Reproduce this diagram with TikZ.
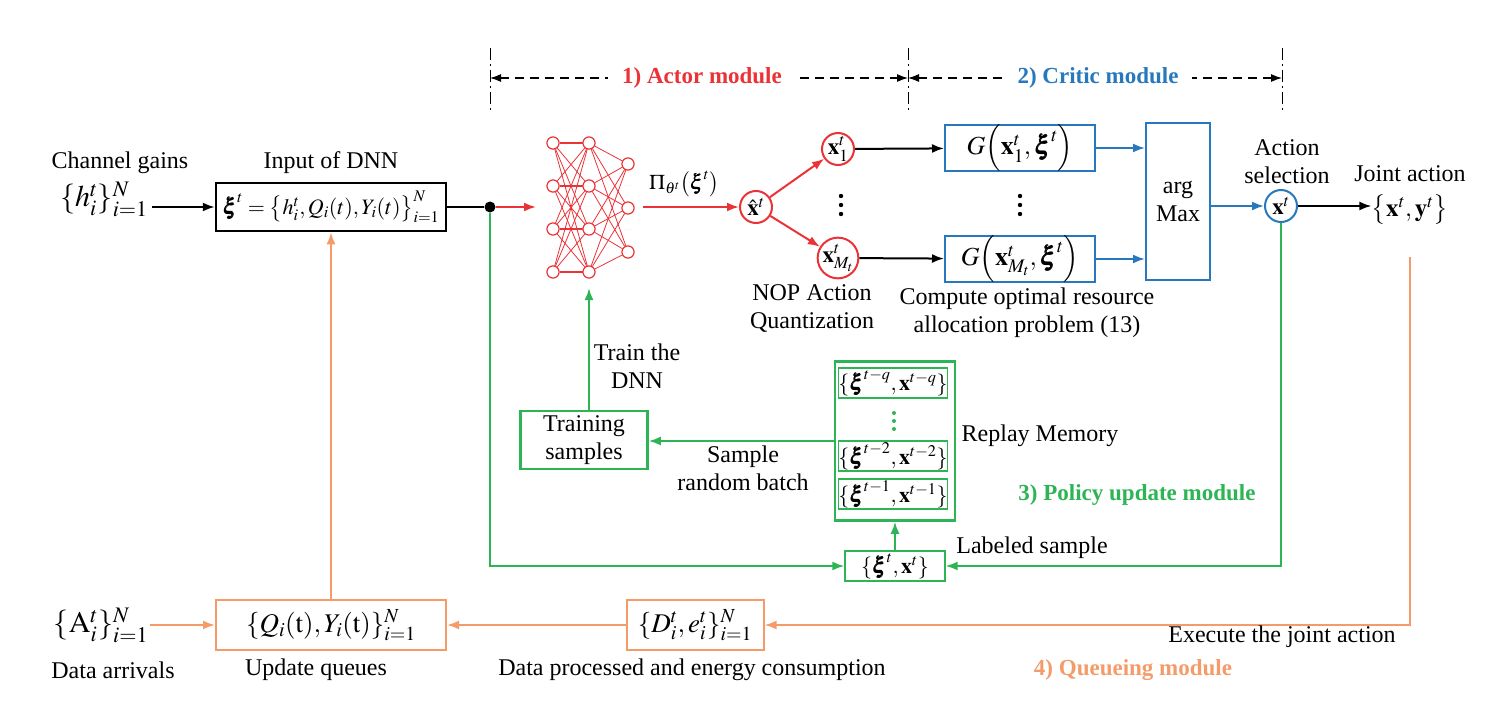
\documentclass[tikz,border=0pt]{standalone}
\usepackage{amsmath}
\usepackage{mathptmx}
\usepackage{bm}
\usepackage{fontspec}
\setmainfont{Liberation Serif}
\usetikzlibrary{arrows.meta}
\definecolor{cred}{RGB}{235,50,55}
\definecolor{cblue}{RGB}{40,120,190}
\definecolor{cgreen}{RGB}{45,180,85}
\definecolor{corange}{RGB}{245,155,105}
\newcommand{\vdd}{\tikz[baseline=0pt]{\fill (0,0) circle (2.2pt); \fill (0,9pt) circle (2.2pt); \fill (0,18pt) circle (2.2pt);}}
\begin{document}
\begin{tikzpicture}[x=1pt,y=-1pt,
  txt/.style={font=\fontsize{24}{28}\selectfont, align=center, inner sep=0},
  ttl/.style={font=\fontsize{23}{26}\selectfont\bfseries, inner sep=0},
  mth/.style={font=\fontsize{27}{30}\selectfont, inner sep=0},
  arr/.style={line width=2pt, -{Latex[length=12pt,width=9pt]}},
  ln/.style={line width=2pt},
  bbox/.style={draw, line width=2.5pt, inner sep=0, font=\fontsize{22}{26}\selectfont},
  blbox/.style={draw=cblue, line width=2pt, inner sep=0, font=\fontsize{26}{28}\selectfont},
  gbox/.style={draw=cgreen, line width=2.5pt, inner sep=0, font=\fontsize{24}{28}\selectfont, align=center},
  gsub/.style={draw=cgreen, line width=1.2pt, inner sep=0, font=\fontsize{22}{24}\selectfont},
  obox/.style={draw=corange, line width=2pt, inner sep=0, font=\fontsize{27}{30}\selectfont},
  circ/.style={circle, line width=2pt, minimum size=32pt, inner sep=0, font=\fontsize{23}{24}\selectfont},
  nn/.style={circle, draw=cred, fill=white, line width=1pt, minimum size=12pt, inner sep=0},
  nnl/.style={draw=cred, line width=0.8pt},
  nndot/.style={text=cred!45, font=\fontsize{7}{7}\selectfont, inner sep=0},
  vdn/.style={inner sep=0},
  dashdot/.style={line width=1pt, dash pattern=on 12pt off 4pt on 2pt off 4pt},
  dimline/.style={line width=1.2pt, dash pattern=on 9pt off 6pt, {Latex[length=11pt,width=8pt]}-{Latex[length=11pt,width=8pt]}}
]
\useasboundingbox (0,0) rectangle (1497,709);

% ---------- module dimension lines ----------
\coordinate (v1a) at (490,48); \coordinate (v1b) at (490,112);
\coordinate (v2a) at (908,48); \coordinate (v2b) at (908,112);
\coordinate (v3a) at (1282,48); \coordinate (v3b) at (1282,112);
\coordinate (v1m) at (490,78); \coordinate (v2m) at (908,78); \coordinate (v3m) at (1282,78);
\draw[dashdot] (v1a) -- (v1b);
\draw[dashdot] (v2a) -- (v2b);
\draw[dashdot] (v3a) -- (v3b);
\draw[dimline] (v1m) -- (v2m);
\draw[dimline] (v2m) -- (v3m);
\node[ttl, text=cred, fill=white, inner xsep=14pt, inner ysep=4pt] (t1) at (702,78) {1) Actor module};
\node[ttl, text=cblue, fill=white, inner xsep=14pt, inner ysep=4pt] (t2) at (1098,78) {2) Critic module};

% ---------- input ----------
\node[txt] (cg) at (120,163) {Channel gains};
\node[mth, font=\fontsize{30}{32}\selectfont] (h) at (104,199) {$\{h_i^t\}_{i=1}^N$};
\node[txt] (idnn) at (331,163) {Input of DNN};
\node[bbox, minimum width=230pt, minimum height=48pt] (inp) at (331,207)
  {$\bm{\xi}^t=\big\{h_i^t,Q_i(t),Y_i(t)\big\}_{i=1}^N$};
\draw[arr] (h.east |- inp.west) ++(4,0) coordinate (hs) -- (inp.west);
\node[circle, fill=black, minimum size=11pt, inner sep=0] (dot) at (490,207) {};
\draw[ln] (inp.east) -- (dot);
\coordinate (nnin) at (536,207);
\draw[arr, cred] (dot) -- (nnin);

% ---------- neural network ----------
\foreach \i/\yy in {1/143,2/186,3/229,4/272} {
  \node[nn] (a\i) at (553,\yy) {};
  \node[nn] (b\i) at (589,\yy) {};
}
\foreach \i/\yy in {1/164,2/208,3/252} { \node[nn] (c\i) at (628,\yy) {}; }
\foreach \i in {1,...,4} { \foreach \j in {1,...,4} { \draw[nnl] (a\i) -- (b\j); } }
\foreach \i in {1,...,4} { \draw[nnl, line width=1.6pt] (a\i) -- (b\i); }
\foreach \i in {1,...,4} { \foreach \j in {1,2,3} { \draw[nnl] (b\i) -- (c\j); } }
\foreach \i/\yy in {1/143,2/186,3/229,4/272} {
  \node[nn] at (553,\yy) {};
  \node[nn] at (589,\yy) {};
}
\foreach \i/\yy in {1/164,2/208,3/252} { \node[nn] at (628,\yy) {}; }
\foreach \yy in {164,207,250} {
  \node[nndot] at (553,\yy) {$\cdots$};
  \node[nndot] at (589,\yy) {$\cdots$};
}
\foreach \yy in {186,230} { \node[nndot] at (629,\yy) {$\cdots$}; }
\coordinate (nnout) at (643,207);
\coordinate (nnbot) at (589,288);

% ---------- actor ----------
\node[circ, draw=cred] (xh) at (756,207) {$\hat{\mathbf{x}}^t$};
\draw[arr, cred] (nnout) -- (xh);
\node[mth, font=\fontsize{21}{24}\selectfont] (pi) at (684,184) {$\Pi_{\theta^t}\big(\bm{\xi}^t\big)$};
\node[circ, draw=cred] (x1) at (838,149) {$\mathbf{x}_1^t$};
\node[circ, draw=cred] (xm) at (838,258) {$\mathbf{x}_{M_t}^t$};
\draw[arr, cred] (xh) -- (x1);
\draw[arr, cred] (xh) -- (xm);
\node[vdn] (vd1) at (841,205) {\vdd};
\node[txt] (nop) at (812,308) {NOP Action\\Quantization};

% ---------- critic ----------
\node[blbox, minimum width=150pt, minimum height=41pt] (g1) at (1020,148) {$G\Big(\mathbf{x}_1^t,\bm{\xi}^t\Big)$};
\node[blbox, minimum width=150pt, minimum height=41pt] (gm) at (1020,259) {$G\Big(\mathbf{x}_{M_t}^t,\bm{\xi}^t\Big)$};
\node[vdn] (vd2) at (1020,205) {\vdd};
\draw[arr] (x1) -- (g1);
\draw[arr] (xm) -- (gm);
\node[blbox, minimum width=64pt, minimum height=157pt, align=center, font=\fontsize{24}{28}\selectfont] (am) at (1178,201) {arg\\Max};
\draw[arr, cblue] (g1.east) -- (g1.east -| am.west);
\draw[arr, cblue] (gm.east) -- (gm.east -| am.west);
\node[txt] (comp) at (1027,313) {Compute optimal resource\\allocation problem (13)};
\node[circ, draw=cblue] (xt) at (1281,206) {$\mathbf{x}^t$};
\draw[arr, cblue] (am.east |- xt) -- (xt);
\node[txt] (asel) at (1287,162) {Action\\selection};
\node[txt] (jat) at (1410,174) {Joint action};
\node[mth, font=\fontsize{25}{28}\selectfont] (ja) at (1410,210) {$\big\{\mathbf{x}^t,\mathbf{y}^t\big\}$};
\draw[arr] (xt) -- (xt -| ja.west);

% ---------- policy update ----------
\node[gbox, minimum width=127pt, minimum height=58pt] (train) at (584,440) {Training\\samples};
\draw[arr, cgreen] (train.north -| nnbot) -- (nnbot);
\node[txt] (trdnn) at (637,366) {Train the\\DNN};
\node[gbox, minimum width=120pt, minimum height=159pt] (mem) at (895,441) {};
\node[gsub, minimum width=99pt, minimum height=30pt] (m1) at (893,383) {$\{\bm{\xi}^{t-q},\mathbf{x}^{t-q}\}$};
\node[gsub, minimum width=99pt, minimum height=30pt] (m2) at (893,456) {$\{\bm{\xi}^{t-2},\mathbf{x}^{t-2}\}$};
\node[gsub, minimum width=99pt, minimum height=30pt] (m3) at (893,494) {$\{\bm{\xi}^{t-1},\mathbf{x}^{t-1}\}$};
\node[vdn, text=cgreen] (vd3) at (894,421) {\tikz[baseline=0pt]{\fill[cgreen] (0,0) circle (2pt); \fill[cgreen] (0,8pt) circle (2pt); \fill[cgreen] (0,16pt) circle (2pt);}};
\draw[arr, cgreen] (mem.west) -- (mem.west -| train.east);
\node[txt] (srb) at (743,468) {Sample\\random batch};
\node[txt] (rm) at (1040,436) {Replay Memory};
\node[ttl, text=cgreen] (t3) at (1137,495) {3) Policy update module};
\node[gsub, minimum width=100pt, minimum height=30pt] (lab) at (895,566) {$\{\bm{\xi}^t,\mathbf{x}^t\}$};
\draw[arr, cgreen] (lab) -- (mem);
\draw[arr, cgreen] (dot) |- (lab.west);
\draw[arr, cgreen] (xt) |- (lab.east);
\node[txt] (ls) at (1032,548) {Labeled sample};

% ---------- queueing ----------
\node[mth, font=\fontsize{30}{32}\selectfont] (A) at (101,625) {$\{\mathrm{A}_i^t\}_{i=1}^N$};
\node[obox, minimum width=230pt, minimum height=50pt] (q) at (331,625) {$\{Q_i(\mathrm{t}),Y_i(\mathrm{t})\}_{i=1}^N$};
\node[obox, minimum width=137pt, minimum height=50pt] (d) at (695,625) {$\{D_i^t,e_i^t\}_{i=1}^N$};
\coordinate (ostart) at (1410,257);
\draw[arr, corange] (ostart) |- (d.east);
\draw[arr, corange] (d) -- (q);
\draw[arr, corange] (A.east |- q.west) ++(2,0) -- (q.west);
\draw[arr, corange] (q) -- (inp);
\node[txt] (da) at (113,670) {Data arrivals};
\node[txt] (uq) at (316,670) {Update queues};
\node[txt] (dp) at (692,670) {Data processed and energy consumption};
\node[txt] (ex) at (1282,637) {Execute the joint action};
\node[ttl, text=corange] (t4) at (1133,670) {4) Queueing module};
\end{tikzpicture}
\end{document}
